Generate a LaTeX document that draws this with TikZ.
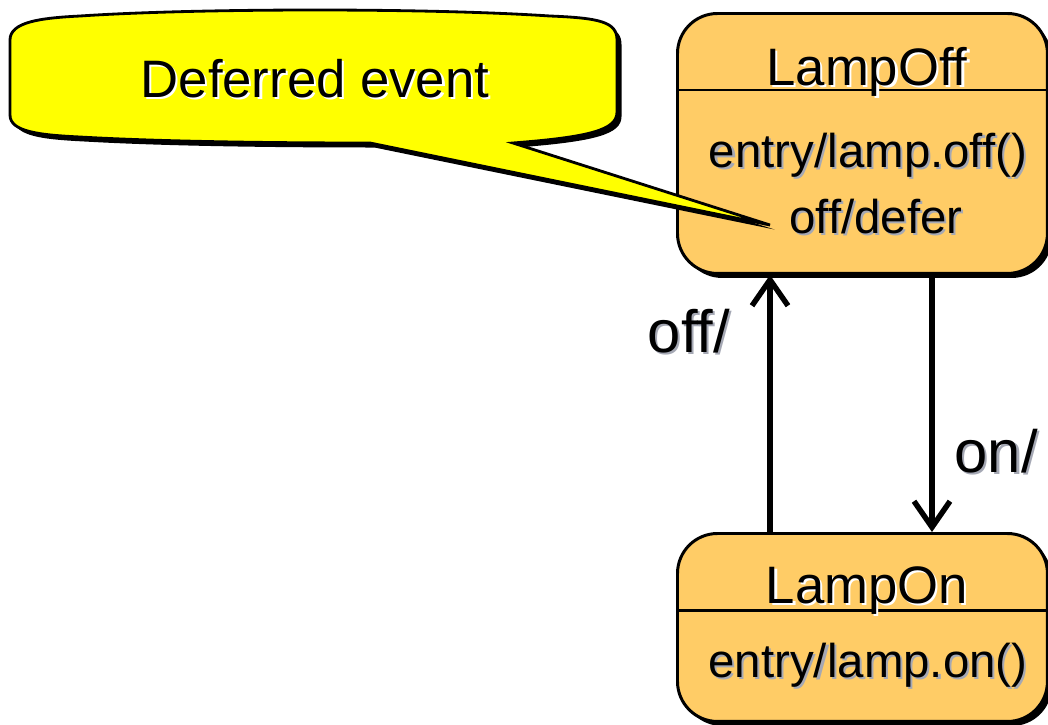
\documentclass[tikz,border=0pt]{standalone}
\usepackage{fontspec}
\setmainfont{Liberation Sans}
\usetikzlibrary{arrows.meta,shadows,positioning}
\definecolor{stateorange}{RGB}{255,204,102}
\definecolor{noteyellow}{RGB}{255,255,0}
\definecolor{textshade}{RGB}{165,168,180}
\newcommand{\shtxt}[2]{\makebox[0pt][l]{\hspace{1.2pt}\raisebox{-1.2pt}{\textcolor{#1}{#2}}}#2}

\begin{document}
\begin{tikzpicture}[x=0.02cm,y=-0.02cm,>={Straight Barb[length=0.52cm,width=0.72cm]},
        blackshadow/.style={drop shadow={shadow xshift=0.09cm,shadow yshift=-0.09cm,opacity=1,fill=black}},
        statebox/.style={draw, line width=1.7pt, rounded corners=0.8cm, fill=stateorange, anchor=north west, minimum width=7.4cm, blackshadow},
        statetitle/.style={anchor=base, inner sep=0, font=\fontsize{30}{36}\selectfont},
        statebody/.style={anchor=base, inner sep=0, font=\fontsize{27}{32}\selectfont},
        lbl/.style={inner sep=0, font=\fontsize{34}{40}\selectfont},
        trans/.style={->, line width=3.1pt}]
        \useasboundingbox (0,0) rectangle (1048,724);
        % states
        \node (lampoff) [statebox, minimum height=5.2cm] at (676,12) {};
        \node (lampon) [statebox, minimum height=3.76cm] at (676,532) {};
        \coordinate (offdiv) at (0,90);
        \coordinate (ondiv) at (0,610);
        \draw[line width=1.7pt] (lampoff.west |- offdiv) -- (lampoff.east |- offdiv);
        \draw[line width=1.7pt] (lampon.west |- ondiv) -- (lampon.east |- ondiv);
        \node (offname) [statetitle] at (867,85) {\shtxt{white}{LampOff}};
        \node (offentry) [statebody] at (868,167) {\shtxt{textshade}{entry/lamp.off()}};
        \node (offdefer) [statebody] at (876,233) {\shtxt{textshade}{off/defer}};
        \node (onname) [statetitle] at (867,603) {\shtxt{white}{LampOn}};
        \node (onentry) [statebody] at (868,677) {\shtxt{textshade}{entry/lamp.on()}};
        % note bubble
        \coordinate (tip) at (770,225);
        \path[fill=noteyellow, draw=black, line width=1.6pt, blackshadow]
            (10,40) .. controls (10,22) and (40,18) .. (80,16)
            .. controls (200,8) and (430,8) .. (550,16)
            .. controls (600,18) and (617,22) .. (617,40) -- (617,112)
            .. controls (617,130) and (590,137) .. (513,143) -- (tip) -- (370,143)
            .. controls (250,143) and (150,141) .. (80,137)
            .. controls (40,135) and (10,132) .. (10,115) -- cycle;
        \node (deferred) [statetitle] at (315,97) {\shtxt{white}{Deferred event}};
        % transitions
        \coordinate (upx) at (770,0);
        \coordinate (downx) at (932,0);
        \draw[trans] (lampon.north -| upx) -- node (offlbl) [lbl, pos=0.7, anchor=base east, xshift=-0.75cm] {\shtxt{textshade}{off/}} (lampoff.south -| upx);
        \draw[trans] (lampoff.south -| downx) -- node (onlbl) [lbl, pos=0.77, anchor=base west, xshift=0.4cm] {\shtxt{textshade}{on/}} (lampon.north -| downx);
\end{tikzpicture}
\end{document}
